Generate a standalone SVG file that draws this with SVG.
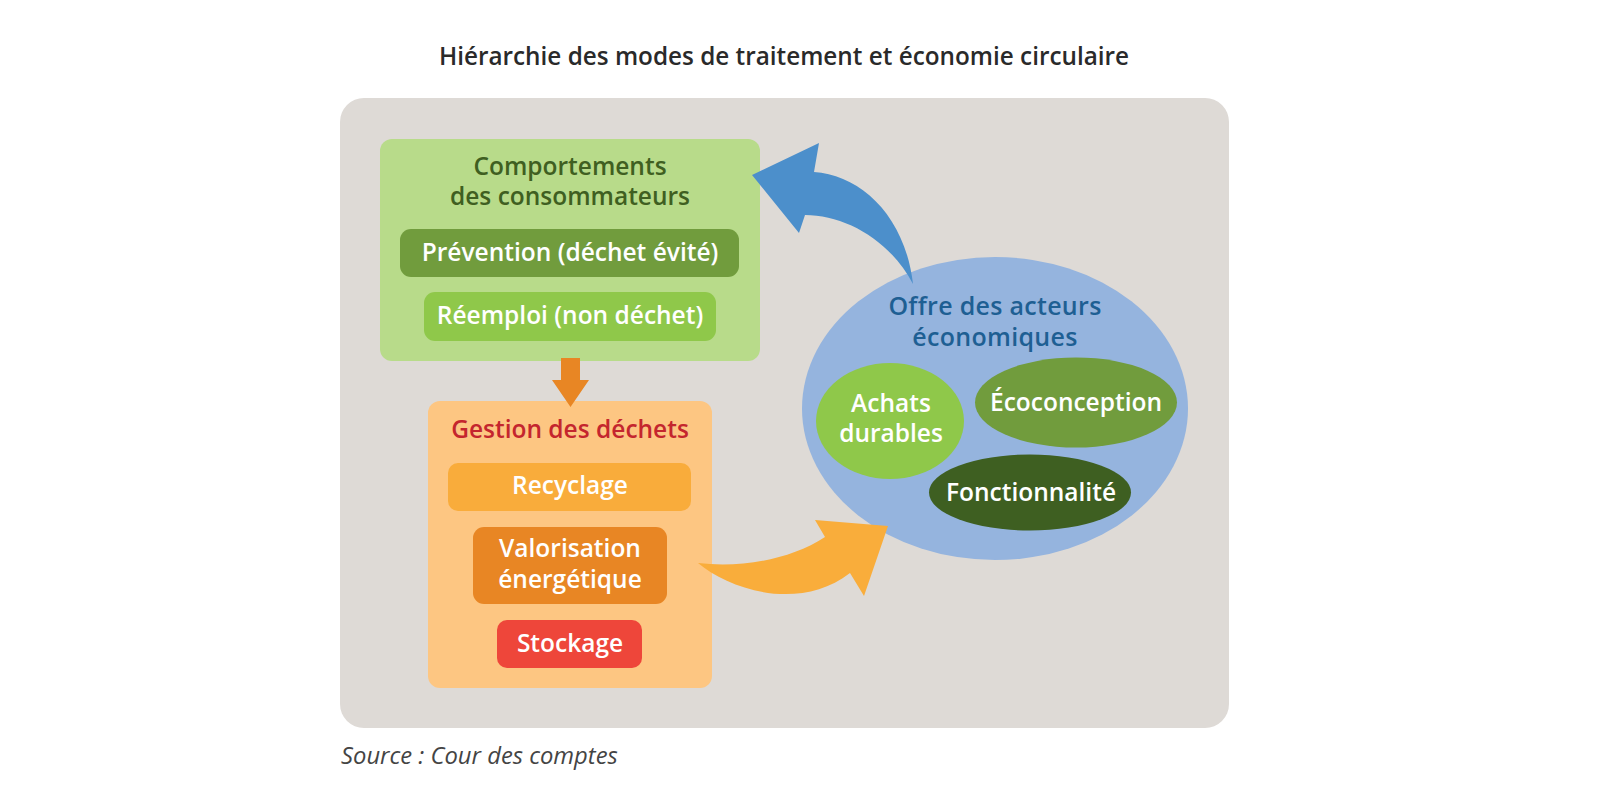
<svg xmlns="http://www.w3.org/2000/svg" width="1600" height="800" viewBox="0 0 1600 800">
<style>
  text { font-family: "Open Sans", "Liberation Sans", sans-serif; text-anchor: middle; }
  .lbl { font-weight: 600; font-size: 24.5px; fill: #ffffff; }
  .hdr-green { font-weight: 600; font-size: 24.5px; fill: #3f5f21; }
  .hdr-red { font-weight: 600; font-size: 24.5px; fill: #c4262e; }
  .hdr-blue { font-weight: 600; font-size: 25px; letter-spacing: 0.3px; fill: #1e5f93; }
  .title { font-weight: 600; font-size: 24.3px; fill: #2a2a2a; }
  .source { font-style: italic; font-size: 23.8px; fill: #444444; text-anchor: start; }
</style>
<rect width="1600" height="800" fill="#ffffff"/>
<text class="title" x="784" y="65">Hiérarchie des modes de traitement et économie circulaire</text>
<rect id="panel" x="340" y="98" width="889" height="630" rx="24" fill="#dedad6"/>

<g id="comportements">
  <rect x="380" y="139" width="380" height="222" rx="12" fill="#b8db8a"/>
  <text class="hdr-green" x="570" y="175">Comportements</text>
  <text class="hdr-green" x="570" y="205">des consommateurs</text>
</g>
<g id="prevention">
  <rect x="400" y="229" width="339" height="48" rx="11" fill="#719c3d"/>
  <text class="lbl" x="570" y="261">Prévention (déchet évité)</text>
</g>
<g id="reemploi">
  <rect x="424" y="292" width="292" height="49" rx="11" fill="#8fc84a"/>
  <text class="lbl" x="570" y="324">Réemploi (non déchet)</text>
</g>

<g id="gestion">
  <rect x="428" y="401" width="284" height="287" rx="12" fill="#fdc682"/>
  <text class="hdr-red" x="570" y="438">Gestion des déchets</text>
</g>
<g id="recyclage">
  <rect x="448" y="463" width="243" height="48" rx="10" fill="#f9ac3b"/>
  <text class="lbl" x="570" y="494">Recyclage</text>
</g>
<g id="valorisation">
  <rect x="473" y="527" width="194" height="77" rx="11" fill="#e88624"/>
  <text class="lbl" x="570" y="557">Valorisation</text>
  <text class="lbl" x="570" y="588">énergétique</text>
</g>
<g id="stockage">
  <rect x="497" y="620" width="145" height="48" rx="10" fill="#ee463a"/>
  <text class="lbl" x="570" y="652">Stockage</text>
</g>

<g id="offre">
  <ellipse cx="995" cy="408.5" rx="193" ry="151.5" fill="#95b4de"/>
  <text class="hdr-blue" x="995" y="315">Offre des acteurs</text>
  <text class="hdr-blue" x="995" y="346">économiques</text>
</g>
<g id="achats">
  <ellipse cx="890" cy="421" rx="74" ry="58" fill="#8fc84a"/>
  <text class="lbl" x="891" y="412">Achats</text>
  <text class="lbl" x="891" y="442">durables</text>
</g>
<g id="ecoconception">
  <ellipse cx="1076" cy="402.5" rx="101" ry="45" fill="#719c3d"/>
  <text class="lbl" x="1076" y="411">Écoconception</text>
</g>
<g id="fonctionnalite">
  <ellipse cx="1030" cy="492.5" rx="101" ry="38" fill="#3e5f21"/>
  <text class="lbl" x="1031" y="501">Fonctionnalité</text>
</g>

<g id="connectors">
  <path d="M561,358 H580 V380 H589 L570.5,407 L552,380 H561 Z" fill="#e88624"/>
  <path d="M913,284 C905,215 860,175 814,172 L819,143 L752,175 L799,233 L805,215 C845,215 890,240 913,284 Z" fill="#4c8fcb"/>
  <path d="M698,563 C730,590 800,612 850,573 L864,596 L888,526 L815,520 L825,537 C790,560 740,568 698,563 Z" fill="#f9ad3b"/>
</g>

<text class="source" x="341" y="764">Source : Cour des comptes</text>
</svg>
